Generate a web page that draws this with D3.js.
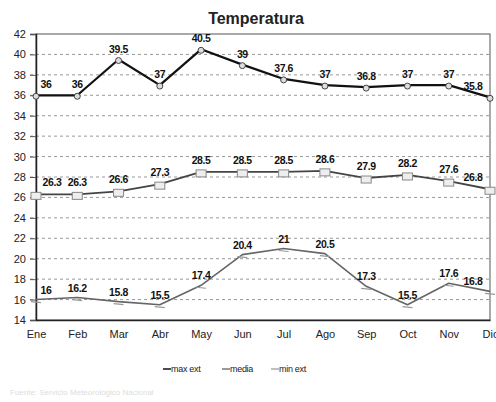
<!DOCTYPE html>
<html>
<head>
<meta charset="utf-8">
<script src="https://cdn.jsdelivr.net/npm/d3@7"></script>
<style>
  body { margin: 0; background: #fff; }
  svg { display: block; font-family: Arial, "Liberation Sans", sans-serif; }
</style>
</head>
<body>
<div id="chart"></div>
<script>
const MONTHS  = ['Ene','Feb','Mar','Abr','May','Jun','Jul','Ago','Sep','Oct','Nov','Dic'];
const MAX_EXT = [36, 36, 39.5, 37, 40.5, 39, 37.6, 37, 36.8, 37, 37, 35.8];
const MEDIA   = [26.3, 26.3, 26.6, 27.3, 28.5, 28.5, 28.5, 28.6, 27.9, 28.2, 27.6, 26.8];
const MIN_EXT = [16, 16.2, 15.8, 15.5, 17.4, 20.4, 21, 20.5, 17.3, 15.5, 17.6, 16.8];
const Y_TICKS = d3.range(14, 43, 2);

const W = 496, H = 402;
const L = 36, R = 490, T = 34, B = 320;

const svg = d3.select('#chart').append('svg').attr('width', W).attr('height', H);

const x = d3.scalePoint().domain(MONTHS).range([L, R]);
const y = d3.scaleLinear().domain([14, 42]).range([B, T]);

// ── title ────────────────────────────────────────────────────────────────
svg.append('text').attr('x', 256).attr('y', 24).attr('text-anchor', 'middle')
  .attr('font-size', 16).attr('font-weight', 'bold').attr('fill', '#222').text('Temperatura');

// ── grid ─────────────────────────────────────────────────────────────────
svg.append('g').selectAll('line').data(Y_TICKS.filter(t => t > 14 && t < 42)).join('line')
  .attr('x1', L - 6).attr('x2', R).attr('y1', d => y(d)).attr('y2', d => y(d))
  .attr('stroke', '#999').attr('stroke-dasharray', '3,3').attr('stroke-width', 1);

// plot frame
svg.append('rect').attr('x', L).attr('y', T).attr('width', R - L).attr('height', B - T)
  .attr('fill', 'none').attr('stroke', '#555').attr('stroke-width', 1);

// ── axes ─────────────────────────────────────────────────────────────────
const yAxis = svg.append('g').attr('transform', `translate(${L},0)`)
  .call(d3.axisLeft(y).tickValues(Y_TICKS).tickSize(6).tickPadding(4));
yAxis.select('.domain').attr('stroke', '#222').attr('stroke-width', 1.5);
yAxis.selectAll('.tick line').attr('stroke', '#555');
yAxis.selectAll('text').attr('font-size', 11).attr('fill', '#222').attr('font-family', 'Arial');

const xAxis = svg.append('g').attr('transform', `translate(0,${B})`)
  .call(d3.axisBottom(x).tickSize(0).tickPadding(10));
xAxis.select('.domain').attr('stroke', '#222').attr('stroke-width', 1.5);
xAxis.selectAll('text').attr('font-size', 11).attr('fill', '#222').attr('font-family', 'Arial');

// ── series ───────────────────────────────────────────────────────────────
const series = [
  { name: 'max ext', values: MAX_EXT, color: '#111', width: 2.2, marker: 'circle', labelDy: -7 },
  { name: 'media',   values: MEDIA,   color: '#444', width: 1.8, marker: 'square', labelDy: -8 },
  { name: 'min ext', values: MIN_EXT, color: '#666', width: 1.6, marker: 'tri',    labelDy: -6 },
];

const line = d3.line().x((d, i) => x(MONTHS[i])).y(d => y(d));

series.forEach(s => {
  const g = svg.append('g');
  g.append('path').datum(s.values).attr('d', line)
    .attr('fill', 'none').attr('stroke', s.color).attr('stroke-width', s.width)
    .attr('stroke-linejoin', 'round');

  s.values.forEach((v, i) => {
    const cx = x(MONTHS[i]), cy = y(v);
    if (s.marker === 'circle') {
      g.append('circle').attr('cx', cx).attr('cy', cy + 1).attr('r', 3)
        .attr('fill', '#ddd').attr('stroke', '#444').attr('stroke-width', 1);
    } else if (s.marker === 'square') {
      g.append('rect').attr('x', cx - 5).attr('y', cy - 2).attr('width', 10).attr('height', 7)
        .attr('fill', '#eee').attr('stroke', '#888').attr('stroke-width', 1);
    } else {
      g.append('path').attr('d', `M${cx - 5},${cy + 2}L${cx + 5},${cy + 3}`)
        .attr('stroke', '#999').attr('stroke-width', 1.2).attr('fill', 'none');
    }

    const label = String(v);
    const half = label.length * 3;
    const lx = Math.max(L + 4 + half, Math.min(R - 5 - half, cx));
    g.append('text').attr('x', lx).attr('y', cy + s.labelDy).attr('text-anchor', 'middle')
      .attr('font-size', 10.5).attr('font-weight', 'bold').attr('fill', '#111')
      .attr('letter-spacing', -0.4).text(label);
  });
});

// ── legend ───────────────────────────────────────────────────────────────
const legendItems = [
  { name: 'max ext', x: 163, color: '#111' },
  { name: 'media',   x: 222, color: '#777' },
  { name: 'min ext', x: 271, color: '#aaa' },
];
const lg = svg.append('g').attr('transform', 'translate(0,372)');
legendItems.forEach(d => {
  lg.append('line').attr('x1', d.x).attr('x2', d.x + 8).attr('y1', -3).attr('y2', -3)
    .attr('stroke', d.color).attr('stroke-width', 1.5);
  lg.append('text').attr('x', d.x + 8).attr('y', 0).attr('font-size', 9)
    .attr('fill', '#222').attr('letter-spacing', -0.3).text(d.name);
});

// faint source line
svg.append('text').attr('x', 10).attr('y', 395).attr('font-size', 8)
  .attr('fill', '#ddd').text('Fuente: Servicio Meteorológico Nacional');
</script>
</body>
</html>
